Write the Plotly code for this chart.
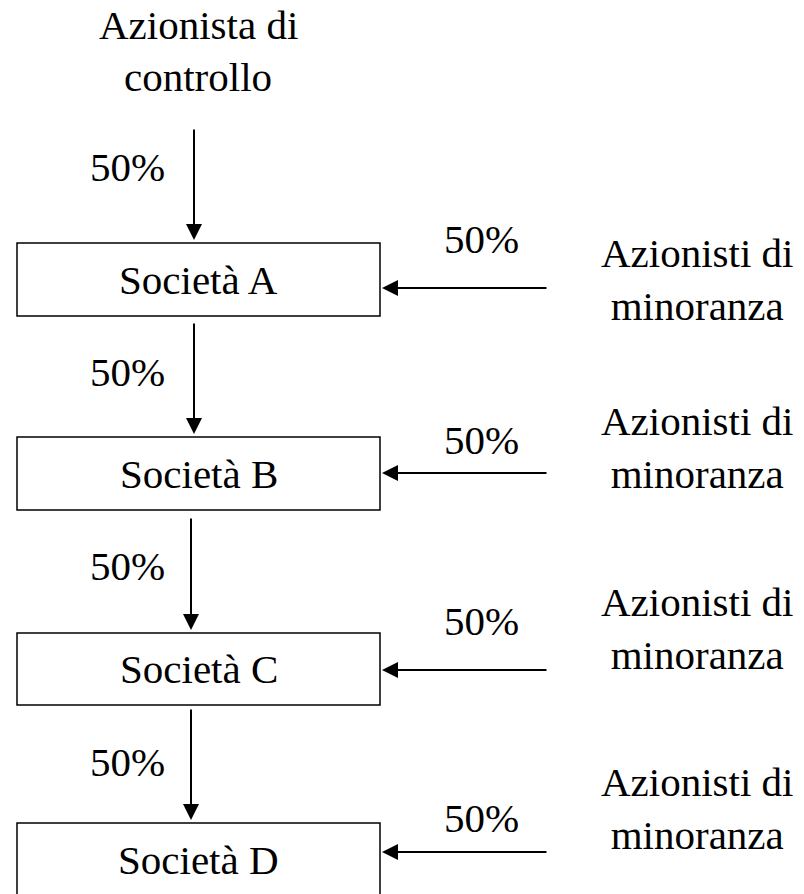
import plotly.graph_objects as go

# ---- data ----
companies = ["Società A", "Società B", "Società C", "Società D"]
box_top = [243, 437, 633, 823]
box_bottom = [316, 510, 705, 896]
box_left, box_right = 17, 380

top_holder_lines = ["Azionista di", "controllo"]
top_holder_y = [25, 77]
minority_label = "Azionisti di<br>minoranza"
minority_y = [279, 447, 628, 808]

down_share = ["50%", "50%", "50%", "50%"]
down_x = [194, 194, 191, 191]
down_from = [128, 322, 517, 708]
down_to = [240, 434, 630, 820]
down_label_y = [167, 372, 566, 762]

side_share = ["50%", "50%", "50%", "50%"]
side_y = [288, 473, 670, 852]
side_from_x = 548
side_label_y = [239, 440, 621, 818]

FONT = dict(family="Liberation Serif", size=41, color="black")

fig = go.Figure()
fig.add_trace(go.Scatter(x=[0, 804], y=[0, 894], mode="markers",
                         marker=dict(opacity=0), hoverinfo="skip", showlegend=False))

shapes = []
annotations = []

for txt, yy in zip(top_holder_lines, top_holder_y):
    annotations.append(dict(x=198, y=yy, text=txt, showarrow=False,
                            xanchor="center", yanchor="middle", font=FONT))

for i, name in enumerate(companies):
    shapes.append(dict(type="rect", x0=box_left, x1=box_right, y0=box_top[i], y1=box_bottom[i],
                       line=dict(color="black", width=1.5), fillcolor="white", layer="below"))
    cy = (box_top[i] + box_bottom[i]) / 2
    annotations.append(dict(x=(box_left + box_right) / 2, y=cy, text=name,
                            showarrow=False, xanchor="center", yanchor="middle", font=FONT))
    annotations.append(dict(x=down_x[i], y=down_to[i], ax=down_x[i], ay=down_from[i],
                            xref="x", yref="y", axref="x", ayref="y", text="",
                            showarrow=True, arrowhead=2, arrowsize=1.6, arrowwidth=2,
                            arrowcolor="black", standoff=0))
    annotations.append(dict(x=127, y=down_label_y[i], text=down_share[i], showarrow=False,
                            xanchor="center", yanchor="middle", font=FONT))
    annotations.append(dict(x=box_right + 2, y=side_y[i], ax=side_from_x, ay=side_y[i],
                            xref="x", yref="y", axref="x", ayref="y", text="",
                            showarrow=True, arrowhead=2, arrowsize=1.6, arrowwidth=2,
                            arrowcolor="black", standoff=0))
    annotations.append(dict(x=481, y=side_label_y[i], text=side_share[i], showarrow=False,
                            xanchor="center", yanchor="middle", font=FONT))
    annotations.append(dict(x=697, y=minority_y[i], text=minority_label, showarrow=False,
                            xanchor="center", yanchor="middle", font=FONT))

fig.update_layout(
    width=804, height=894,
    margin=dict(l=0, r=0, t=0, b=0),
    paper_bgcolor="white", plot_bgcolor="white",
    xaxis=dict(range=[0, 804], visible=False, fixedrange=True),
    yaxis=dict(range=[894, 0], visible=False, fixedrange=True),
    shapes=shapes, annotations=annotations, showlegend=False,
)
fig.write_html("out.html", config={"displayModeBar": False},
               post_script="document.body.style.margin='0';document.body.style.overflow='hidden';")
